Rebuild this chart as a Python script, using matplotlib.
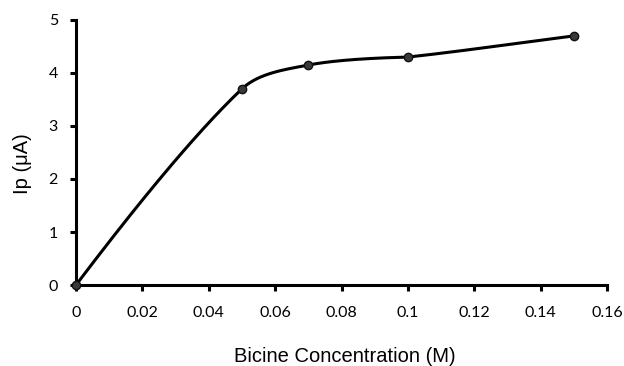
import numpy as np
import matplotlib.pyplot as plt

conc = [0, 0.05, 0.07, 0.1, 0.15]
ip = [0, 3.7, 4.15, 4.3, 4.7]
xticks = [0, 0.02, 0.04, 0.06, 0.08, 0.1, 0.12, 0.14, 0.16]
xtick_labels = ["0", "0.02", "0.04", "0.06", "0.08", "0.1", "0.12", "0.14", "0.16"]
yticks = [0, 1, 2, 3, 4, 5]

fig = plt.figure(figsize=(6.24, 3.66), dpi=100)
ax = fig.add_axes([0.1218, 0.2213, 0.851, 0.7241])
ax.set_xlim(0, 0.16)
ax.set_ylim(0, 5)


def smooth(xs, ys, sx, sy, n=40):
    # Excel-like smoothed line: Bezier segments, tangents weighted by segment length
    p = np.column_stack([np.array(xs) * sx, np.array(ys) * sy])
    last = len(p) - 2
    p = np.vstack([p[0], p, p[-1]])
    out = []
    t = np.linspace(0, 1, n)[:, None]
    for i in range(1, len(p) - 2):
        p0, p1, p2, p3 = p[i - 1], p[i], p[i + 1], p[i + 2]
        d01 = np.hypot(*(p1 - p0))
        d12 = np.hypot(*(p2 - p1))
        d23 = np.hypot(*(p3 - p2))
        c1 = p1 + (p2 - p0) * d12 / (d01 + d12) / 3
        c2 = p2 - (p3 - p1) * d12 / (d12 + d23) / 3
        if i == 1:
            c1 = p1 + (c2 - p1) / 4
        if i == last:
            c2 = p2 + (c1 - p2) / 4
        seg = ((1 - t) ** 3) * p1 + 3 * ((1 - t) ** 2) * t * c1 + 3 * (1 - t) * t ** 2 * c2 + t ** 3 * p2
        out.append(seg)
    out = np.vstack(out)
    return out[:, 0] / sx, out[:, 1] / sy


sx = 531 / 0.16
sy = 265 / 5
cx, cy = smooth(conc, ip, sx, sy)
ax.plot(cx, cy, color="black", lw=2.2, solid_capstyle="round", clip_on=False)
ax.plot(conc, ip, "o", ms=6, mfc="#3a3a3a", mec="#111111", mew=1, clip_on=False, zorder=3)

for s in ["top", "right"]:
    ax.spines[s].set_visible(False)
for s in ["left", "bottom"]:
    ax.spines[s].set_linewidth(2.2)

ax.set_xticks(xticks)
ax.set_xticklabels(xtick_labels)
ax.set_yticks(yticks)
ax.tick_params(direction="out", length=4, width=2.2, labelsize=11.5)
ax.tick_params(axis="x", pad=11)
ax.tick_params(axis="y", pad=9)
for lab in ax.get_xticklabels() + ax.get_yticklabels():
    lab.set_family("Lato")

ax.set_xlabel("Bicine Concentration (M)", fontsize=14.5, family="Liberation Sans")
ax.set_ylabel("Ip (\u03bcA)", fontsize=14.5, family="Liberation Sans")
ax.xaxis.set_label_coords(345 / 624, 1 - 357 / 366, transform=fig.transFigure)
ax.xaxis.label.set_va("center")
ax.yaxis.set_label_coords(22 / 624, 1 - 164 / 366, transform=fig.transFigure)
ax.yaxis.label.set_va("center")

fig.savefig("out.png", dpi=100)
